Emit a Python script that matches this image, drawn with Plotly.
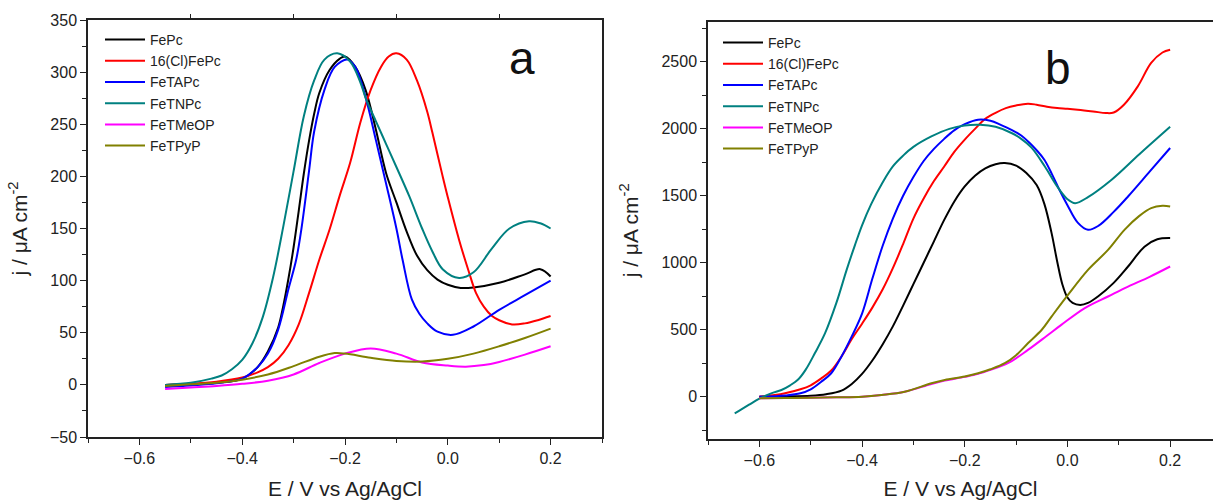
import plotly.graph_objects as go

# ---------------- Panel a data ----------------
a_names = ["FePc", "16(Cl)FePc", "FeTAPc", "FeTNPc", "FeTMeOP", "FeTPyP"]
colors = ["#000000", "#ff0000", "#0000ff", "#008080", "#ff00ff", "#808000"]

a_FePc_E = [-0.55, -0.5, -0.45, -0.4, -0.37, -0.35, -0.33, -0.32, -0.31, -0.3, -0.29, -0.28, -0.27, -0.26, -0.25,
            -0.23, -0.21, -0.2, -0.18, -0.16, -0.14, -0.12, -0.1, -0.08, -0.06, -0.04, -0.02, 0.0, 0.025, 0.05,
            0.1, 0.15, 0.18, 0.2]
a_FePc_j = [0, 0.5, 2, 6, 17, 32, 55, 76, 102, 132, 167, 203, 234, 260, 280,
            302, 313, 315, 305, 283, 245, 203, 175, 147, 124, 110, 101, 96, 93, 93.5,
            98, 106, 111, 104]

a_ClFePc_E = [-0.55, -0.5, -0.45, -0.4, -0.37, -0.35, -0.33, -0.31, -0.29, -0.27, -0.25, -0.23, -0.21, -0.19,
              -0.17, -0.15, -0.13, -0.115, -0.1, -0.08, -0.06, -0.04, -0.03, -0.01, 0.0, 0.022, 0.04, 0.055,
              0.07, 0.086, 0.1, 0.125, 0.15, 0.175, 0.2]
a_ClFePc_j = [0, 1, 3, 7, 12, 17, 25, 38, 58, 88, 120, 149, 182, 213,
              252, 283, 305, 315, 318, 312, 292, 262, 242, 200, 180, 139, 110, 88,
              75, 66, 62, 58, 59, 62, 66]

a_FeTAPc_E = [-0.55, -0.5, -0.45, -0.4, -0.37, -0.35, -0.33, -0.31, -0.295, -0.285, -0.27, -0.26, -0.24, -0.22,
              -0.195, -0.18, -0.16, -0.14, -0.12, -0.1, -0.088, -0.07, -0.055, -0.04, -0.02, 0.01, 0.05, 0.1,
              0.15, 0.2]
a_FeTAPc_j = [-2, -0.5, 1.5, 6, 17, 30, 53, 92, 120, 149, 205, 243, 283, 305,
              312, 305, 276, 235, 193, 150, 120, 82, 68, 59, 51, 48, 56, 72,
              86, 100]

a_FeTNPc_E = [-0.55, -0.5, -0.46, -0.44, -0.42, -0.4, -0.38, -0.36, -0.34, -0.32, -0.3, -0.28, -0.26, -0.24,
              -0.215, -0.19, -0.17, -0.159, -0.14, -0.12, -0.1, -0.075, -0.05, -0.03, -0.01, 0.022, 0.05,
              0.086, 0.12, 0.158, 0.18, 0.2]
a_FeTNPc_j = [0, 2, 6, 9, 15, 24, 40, 65, 103, 152, 205, 258, 292, 312,
              318, 310, 290, 274, 253, 231, 209, 181, 150, 128, 111, 102.6, 108,
              131, 150, 157, 155, 150]

a_FeTMeOP_E = [-0.55, -0.5, -0.45, -0.4, -0.35, -0.3, -0.25, -0.2, -0.15, -0.1, -0.05, 0.0, 0.035, 0.07, 0.1,
               0.15, 0.2]
a_FeTMeOP_j = [-4, -2.5, -1, 1, 4, 10, 21, 30, 35, 30, 21.5, 18.5, 17.5, 19, 22, 29, 37]

a_FeTPyP_E = [-0.55, -0.5, -0.45, -0.4, -0.35, -0.3, -0.25, -0.22, -0.2, -0.15, -0.1, -0.05, 0.0, 0.05, 0.1,
              0.15, 0.2]
a_FeTPyP_j = [-1, 0.5, 2, 5, 10, 18, 27, 30.5, 30, 26, 23, 22.4, 25, 30, 37, 45, 54]

# ---------------- Panel b data ----------------
b_FePc_E = [-0.6, -0.55, -0.5, -0.47, -0.44, -0.42, -0.4, -0.38, -0.36, -0.34, -0.32, -0.3, -0.28, -0.26,
            -0.24, -0.22, -0.2, -0.18, -0.16, -0.14, -0.122, -0.1, -0.08, -0.06, -0.045, -0.031, -0.02, -0.01,
            0.0, 0.01, 0.025, 0.04, 0.06, 0.09, 0.118, 0.15, 0.175, 0.2]
b_FePc_j = [0, 2, 7, 18, 45, 95, 170, 270, 390, 525, 680, 840, 1000, 1160,
            1320, 1460, 1570, 1650, 1705, 1735, 1744, 1725, 1670, 1580, 1440, 1223, 1010, 840,
            740, 700, 685, 700, 750, 850, 972, 1120, 1175, 1184]

b_ClFePc_E = [-0.6, -0.57, -0.55, -0.52, -0.5, -0.48, -0.46, -0.44, -0.42, -0.4, -0.38, -0.36, -0.34, -0.32,
              -0.3, -0.28, -0.26, -0.24, -0.22, -0.2, -0.18, -0.16, -0.14, -0.12, -0.1, -0.077, -0.06, -0.04,
              -0.02, 0.0, 0.02, 0.05, 0.075, 0.09, 0.11, 0.137, 0.163, 0.185, 0.2]
b_ClFePc_j = [0, 12, 25, 55, 85, 135, 195, 300, 430, 545, 665, 800, 960, 1140,
              1330, 1480, 1610, 1719, 1830, 1920, 2000, 2075, 2120, 2155, 2175, 2188, 2180, 2165,
              2155, 2150, 2143, 2130, 2118, 2122, 2180, 2317, 2492, 2570, 2591]

b_FeTAPc_E = [-0.6, -0.57, -0.55, -0.52, -0.5, -0.48, -0.46, -0.44, -0.42, -0.4, -0.38, -0.36, -0.34, -0.32,
              -0.3, -0.28, -0.26, -0.24, -0.22, -0.2, -0.174, -0.15, -0.13, -0.109, -0.09, -0.075, -0.06,
              -0.045, -0.03, -0.015, 0.0, 0.02, 0.04, 0.06, 0.09, 0.118, 0.16, 0.2]
b_FeTAPc_j = [0, 3, 8, 25, 55, 110, 175, 300, 450, 620, 880, 1125, 1330, 1500,
              1640, 1760, 1850, 1925, 1990, 2035, 2068, 2060, 2030, 1993, 1950, 1900, 1840,
              1769, 1660, 1540, 1430, 1300, 1246, 1275, 1380, 1495, 1680, 1857]

b_FeTNPc_E = [-0.648, -0.635, -0.62, -0.6, -0.577, -0.557, -0.54, -0.524, -0.51, -0.492, -0.472, -0.45, -0.43,
              -0.414, -0.4, -0.382, -0.36, -0.34, -0.32, -0.3, -0.265, -0.23, -0.2, -0.17, -0.14, -0.109,
              -0.09, -0.07, -0.044, -0.02, 0.0, 0.015, 0.04, 0.086, 0.14, 0.2]
b_FeTNPc_j = [-124, -95, -60, -15, 25, 50, 85, 130, 200, 324, 474, 700, 947,
              1130, 1280, 1440, 1600, 1720, 1800, 1865, 1943, 2000, 2025, 2030, 2015, 1969,
              1925, 1860, 1719, 1570, 1475, 1445, 1490, 1620, 1810, 2015]

b_FeTMeOP_E = [-0.6, -0.55, -0.5, -0.45, -0.4, -0.362, -0.317, -0.265, -0.239, -0.2, -0.174, -0.15, -0.116,
               -0.077, -0.04, -0.012, 0.033, 0.08, 0.118, 0.16, 0.2]
b_FeTMeOP_j = [-12, -10, -8, -5, 0, 13, 37, 95, 120, 148, 170, 200, 250,
               349, 455, 536, 660, 750, 822, 895, 972]

b_FeTPyP_E = [-0.6, -0.55, -0.5, -0.45, -0.4, -0.362, -0.317, -0.265, -0.239, -0.2, -0.174, -0.15, -0.122,
              -0.1, -0.077, -0.05, -0.031, 0.001, 0.04, 0.079, 0.111, 0.14, 0.163, 0.185, 0.2]
b_FeTPyP_j = [-12, -10, -8, -5, 0, 13, 37, 100, 125, 150, 175, 205, 250,
              310, 399, 500, 598, 760, 947, 1096, 1246, 1350, 1408, 1425, 1420]

a_series = [(a_FePc_E, a_FePc_j), (a_ClFePc_E, a_ClFePc_j), (a_FeTAPc_E, a_FeTAPc_j),
            (a_FeTNPc_E, a_FeTNPc_j), (a_FeTMeOP_E, a_FeTMeOP_j), (a_FeTPyP_E, a_FeTPyP_j)]
b_series = [(b_FePc_E, b_FePc_j), (b_ClFePc_E, b_ClFePc_j), (b_FeTAPc_E, b_FeTAPc_j),
            (b_FeTNPc_E, b_FeTNPc_j), (b_FeTMeOP_E, b_FeTMeOP_j), (b_FeTPyP_E, b_FeTPyP_j)]

x_title = "E / V vs Ag/AgCl"
y_title = "j / \u03bcA cm<sup>-2</sup>"
FONT = "Liberation Sans, Arial, sans-serif"
W, H = 1213, 500

fig = go.Figure()
for name, col, (e, j) in zip(a_names, colors, a_series):
    fig.add_trace(go.Scatter(x=e, y=j, mode="lines", name=name, xaxis="x", yaxis="y",
                             line=dict(color=col, width=2, shape="spline", smoothing=1.0),
                             legend="legend"))
for name, col, (e, j) in zip(a_names, colors, b_series):
    fig.add_trace(go.Scatter(x=e, y=j, mode="lines", name=name, xaxis="x2", yaxis="y2",
                             line=dict(color=col, width=2, shape="spline", smoothing=1.0),
                             legend="legend2"))
# empty trace so that the top tick axis of panel a is drawn
fig.add_trace(go.Scatter(x=[], y=[], xaxis="x3", yaxis="y", showlegend=False, hoverinfo="skip"))

axis_common = dict(showline=True, linecolor="#222", linewidth=1.5, ticks="outside", ticklen=6,
                   tickwidth=1.2, tickcolor="#222", showgrid=False, zeroline=False, automargin=False,
                   tickfont=dict(family=FONT, size=16, color="#222"),
                   title_font=dict(family=FONT, size=21, color="#222"))

fig.update_layout(
    width=W, height=H, margin=dict(l=0, r=0, t=0, b=0, autoexpand=False),
    paper_bgcolor="white", plot_bgcolor="white",
    font=dict(family=FONT, color="#222"),
    hovermode=False,
    xaxis=dict(axis_common, domain=[88 / W, 602 / W], range=[-0.7, 0.3], dtick=0.2, tick0=-0.6,
               tickformat=".1f", mirror=True, anchor="y",
               minor=dict(dtick=0.1, tick0=-0.7, ticks="outside", ticklen=4, tickcolor="#222"),
               title=dict(text=x_title, standoff=17)),
    yaxis=dict(axis_common, domain=[63 / H, 480 / H], range=[-50, 350], dtick=50, mirror=True, anchor="x",
               minor=dict(dtick=25, ticks="outside", ticklen=4, tickcolor="#222"),
               title=dict(text=y_title, standoff=17)),
    xaxis3=dict(overlaying="x", side="top", range=[-0.7, 0.3], tickvals=[-0.5, -0.3, -0.1, 0.1],
                ticks="outside", ticklen=5, tickwidth=1.2, tickcolor="#222", showticklabels=False,
                showline=False, showgrid=False, zeroline=False, anchor="y", automargin=False),
    xaxis2=dict(axis_common, domain=[708 / W, 1.0], range=[-0.7, -0.7 + (W - 708) / 513.5], dtick=0.2,
                tick0=-0.6, tickformat=".1f", mirror=True, anchor="y2",
                minor=dict(dtick=0.1, tick0=-0.7, ticks="outside", ticklen=4, tickcolor="#222"),
                title=dict(text=x_title, standoff=17)),
    yaxis2=dict(axis_common, domain=[61 / H, 478.3 / H], range=[-316, 2800], dtick=500, tick0=0,
                mirror=False, anchor="x2",
                minor=dict(dtick=250, tick0=0, ticks="outside", ticklen=4, tickcolor="#222"),
                title=dict(text=y_title, standoff=17)),
    legend=dict(x=100 / W, y=1 - 24 / H, xanchor="left", yanchor="top", bgcolor="rgba(0,0,0,0)",
                font=dict(family=FONT, size=14, color="#222"), tracegroupgap=0, itemwidth=40),
    legend2=dict(x=718 / W, y=1 - 27 / H, xanchor="left", yanchor="top", bgcolor="rgba(0,0,0,0)",
                 font=dict(family=FONT, size=14, color="#222"), tracegroupgap=0, itemwidth=40),
    showlegend=True,
    annotations=[
        dict(text="a", x=521.7 / W, y=1 - 58 / H, xref="paper", yref="paper", showarrow=False,
             xanchor="center", yanchor="middle",
             font=dict(family="Liberation Sans Narrow, Arial Narrow, sans-serif", size=46, color="#111")),
        dict(text="b", x=1058 / W, y=1 - 68 / H, xref="paper", yref="paper", showarrow=False,
             xanchor="center", yanchor="middle",
             font=dict(family="Liberation Sans Narrow, Arial Narrow, sans-serif", size=46, color="#111")),
    ],
)

fig.write_html("out.html", config={"displayModeBar": False},
               post_script="document.body.style.margin='0px';")
